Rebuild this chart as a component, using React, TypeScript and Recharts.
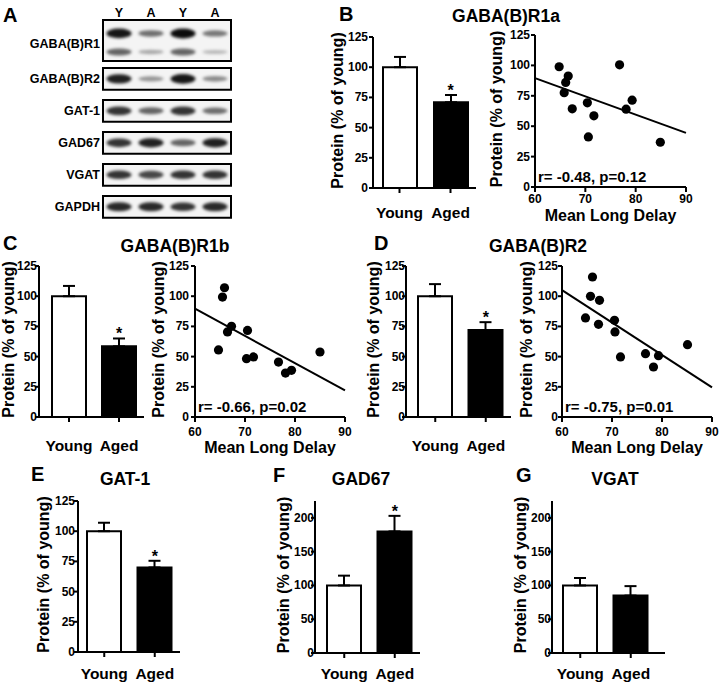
import React from "react";
import {
  BarChart,
  Bar,
  Cell,
  ErrorBar,
  ReferenceDot,
  ScatterChart,
  Scatter,
  ReferenceLine,
  ReferenceArea,
  XAxis,
  YAxis,
} from "recharts";

const FONT = '"Liberation Sans", Arial, Helvetica, sans-serif';

// bar panels: mean and SEM, % of young
const groups = ["Young", "Aged"];
const r1aMean = [100, 71];
const r1aSem = [8.5, 6];
const r1bMean = [100, 58.5];
const r1bSem = [8.5, 6.5];
const r2Mean = [100, 72];
const r2Sem = [10, 6.5];
const gat1Mean = [100, 70];
const gat1Sem = [7, 5.5];
const gad67Mean = [100, 180];
const gad67Sem = [14.5, 23];
const vgatMean = [100, 85];
const vgatSem = [11, 14];

// scatter panels: mean long delay vs protein
const r1aDelay = [64.8, 66.6, 66.1, 65.8, 67.4, 70.4, 71.7, 70.6, 76.8, 79.3, 78.1, 84.9];
const r1aProt = [98.9, 91.2, 86.0, 77.5, 64.3, 69.2, 58.5, 41.2, 100.5, 71.4, 64.0, 36.8];
const r1aFit = [89.5, 44.5];
const r1bDelay = [65.9, 65.5, 67.3, 66.5, 64.7, 70.5, 70.3, 71.7, 76.7, 78.1, 79.3, 85.0];
const r1bProt = [107, 99.3, 75.1, 70.4, 55.5, 71.7, 48.3, 49.7, 45.5, 36.4, 38.6, 53.8];
const r1bFit = [89.7, 22];
const r2Delay = [66.1, 65.7, 67.5, 64.7, 67.3, 70.5, 70.6, 71.7, 76.7, 78.3, 79.3, 85.1];
const r2Prot = [115.9, 99.9, 96.6, 82.0, 76.7, 80.0, 70.4, 49.7, 52.4, 41.4, 50.8, 59.9];
const r2Fit = [105, 24.5];
const fitX = [60, 90];
const delayTicks = [60, 70, 80, 90];

// western blot
const lanes = ["Y", "A", "Y", "A"];
const blotRows = ["GABA(B)R1", "GABA(B)R2", "GAT-1", "GAD67", "VGAT", "GAPDH"];
const bandKd = ["130 kD", "95 kD", "105 kD", "74 kD", "67 kD", "57 kD", "37 kD"];
const bandRow = [0, 0, 1, 2, 3, 4, 5];
const bandDensity = [
  [0.95, 0.5, 1.0, 0.45],
  [0.55, 0.2, 0.55, 0.12],
  [0.9, 0.3, 0.95, 0.35],
  [0.8, 0.55, 0.8, 0.5],
  [0.8, 0.9, 0.55, 0.9],
  [0.8, 0.7, 0.8, 0.8],
  [0.85, 0.85, 0.8, 0.85],
];

const rowTop = (r: number) => (r === 0 ? 0 : r + 0.5);
const rowBottom = (r: number) => (r === 0 ? 1.28 : r + 1.18);
const rowMid = (r: number) => (r === 0 ? 0.75 : r + 0.84);
const bandPos = (b: number) => (b === 0 ? 0.42 : b === 1 ? 1.0 : rowMid(bandRow[b]));

const tickStyle = { fill: "#000", fontSize: 12, fontWeight: 700, fontFamily: FONT };
const axisStroke = { stroke: "#000", strokeWidth: 2 };

function Tag({ x, y, size, mid, children }: any) {
  return (
    <div
      style={{
        position: "absolute",
        left: x,
        top: y,
        transform: mid ? "translate(-50%,-50%)" : "translateY(-50%)",
        fontFamily: FONT,
        fontWeight: 700,
        fontSize: size,
        lineHeight: 1,
        whiteSpace: "nowrap",
        color: "#000",
      }}
    >
      {children}
    </div>
  );
}

// off = distance from the axis line to the visual middle of the rotated label
const yLabel = (off: number) => (p: any) => {
  const vb = p.viewBox;
  const cx = vb.x + vb.width - off - 1.5;
  const cy = vb.y + vb.height / 2 - 2;
  return (
    <text
      x={cx}
      y={cy}
      transform={`rotate(-90 ${cx} ${cy})`}
      textAnchor="middle"
      dominantBaseline="central"
      fontFamily={FONT}
      fontWeight={700}
      fontSize={16}
      fill="#000"
    >
      Protein (% of young)
    </text>
  );
};

const valueTick = (p: any) => (
  <text
    x={p.x}
    y={p.y}
    textAnchor="end"
    dominantBaseline="central"
    fontFamily={FONT}
    fontWeight={700}
    fontSize={12}
    fill="#000"
  >
    {p.payload.value}
  </text>
);

const groupTick = (dy: number) => (p: any) => (
  <text
    x={p.x}
    y={p.y + dy}
    textAnchor="middle"
    dominantBaseline="central"
    fontFamily={FONT}
    fontWeight={700}
    fontSize={15.5}
    fill="#000"
  >
    {p.payload.value}
  </text>
);

const starLabel = (p: any) => {
  const vb = p.viewBox;
  return (
    <text
      x={vb.x + vb.width / 2}
      y={vb.y + vb.height / 2 + 1}
      textAnchor="middle"
      fontFamily={FONT}
      fontWeight={700}
      fontSize={16}
      fill="#000"
    >
      *
    </text>
  );
};

function BarPanel({ means, sems, star, axisX, top, bottom, right, padLeft, padRight = 0, yMax, ticks, xLabelDy, yLabelOff, tickGap }: any) {
  const left = axisX - 60;
  const chartTop = top - 10;
  const data = groups.map((g, i) => ({ g, mean: means[i], err: [0, sems[i]] }));
  return (
    <div style={{ position: "absolute", left, top: chartTop }}>
      <BarChart
        width={right - left + 10}
        height={bottom - chartTop + 40}
        data={data}
        margin={{ top: 10, right: 10, left: 0, bottom: 0 }}
      >
        <XAxis
          dataKey="g"
          type="category"
          height={40}
          interval={0}
          padding={{ left: padLeft, right: padRight }}
          axisLine={axisStroke}
          tickLine={axisStroke}
          tickSize={5}
          tickMargin={2}
          tick={groupTick(xLabelDy - 7)}
        />
        <YAxis
          type="number"
          width={60}
          domain={[0, yMax]}
          ticks={ticks}
          interval={0}
          axisLine={axisStroke}
          tickLine={axisStroke}
          tickSize={4}
          tickMargin={tickGap - 4}
          tick={valueTick}
          label={yLabel(yLabelOff)}
        />
        <Bar dataKey="mean" barSize={34} isAnimationActive={false}>
          <Cell fill="#fff" stroke="#000" strokeWidth={2} />
          <Cell fill="#000" stroke="#000" strokeWidth={2} />
          <ErrorBar dataKey="err" direction="y" width={6} stroke="#000" strokeWidth={2} isAnimationActive={false} />
        </Bar>
        {star && (
          <ReferenceDot x="Aged" y={means[1] + sems[1]} r={0} fill="none" stroke="none" label={starLabel} />
        )}
      </BarChart>
    </div>
  );
}

function ScatterPanel({ delay, prot, fit, stats, axisX, top, bottom, right, tickMargin, xLabelDy, yLabelOff, tickGap }: any) {
  const left = axisX - 60;
  const chartTop = top - 10;
  const pts = delay.map((x: number, i: number) => ({ x, y: prot[i] }));
  const xLabel = (p: any) => {
    const vb = p.viewBox;
    return (
      <text
        x={vb.x + vb.width / 2}
        y={vb.y + xLabelDy}
        textAnchor="middle"
        dominantBaseline="central"
        fontFamily={FONT}
        fontWeight={700}
        fontSize={16}
        fill="#000"
      >
        Mean Long Delay
      </text>
    );
  };
  const statsLabel = (p: any) => {
    const vb = p.viewBox;
    return (
      <text
        x={vb.x + 3}
        y={vb.y + vb.height - 11}
        dominantBaseline="central"
        fontFamily={FONT}
        fontWeight={700}
        fontSize={15}
        fill="#000"
      >
        {stats}
      </text>
    );
  };
  return (
    <div style={{ position: "absolute", left, top: chartTop }}>
      <ScatterChart
        width={right - left + 14}
        height={bottom - chartTop + 45}
        margin={{ top: 10, right: 14, left: 0, bottom: 0 }}
      >
        <XAxis
          dataKey="x"
          type="number"
          height={45}
          domain={[60, 90]}
          ticks={delayTicks}
          interval={0}
          axisLine={axisStroke}
          tickLine={axisStroke}
          tickSize={5}
          tickMargin={tickMargin}
          tick={tickStyle}
          label={xLabel}
        />
        <YAxis
          dataKey="y"
          type="number"
          width={60}
          domain={[0, 125]}
          ticks={[0, 25, 50, 75, 100, 125]}
          interval={0}
          axisLine={axisStroke}
          tickLine={axisStroke}
          tickSize={4}
          tickMargin={tickGap - 4}
          tick={valueTick}
          label={yLabel(yLabelOff)}
        />
        <ReferenceArea x1={60} x2={90} y1={0} y2={125} fill="none" stroke="none" label={statsLabel} />
        <ReferenceLine
          segment={[
            { x: fitX[0], y: fit[0] },
            { x: fitX[1], y: fit[1] },
          ]}
          stroke="#000"
          strokeWidth={2}
          ifOverflow="visible"
        />
        <Scatter
          data={pts}
          isAnimationActive={false}
          shape={(p: any) => <circle cx={p.cx} cy={p.cy} r={4.6} fill="#000" />}
        />
      </ScatterChart>
    </div>
  );
}

function BlotPanel() {
  const rowTicks = blotRows.map((_, r) => rowMid(r));
  const kdTicks = bandKd.map((_, b) => bandPos(b));
  const bands: any[] = [];
  bandDensity.forEach((row, b) =>
    row.forEach((d, l) => bands.push({ lane: l + 1, pos: bandPos(b), d }))
  );
  const blotTick = { ...tickStyle, fontSize: 12.5 };
  return (
    <div style={{ position: "absolute", left: 0, top: 0 }}>
      <ScatterChart width={290} height={222} margin={{ top: 0, right: 0, left: 0, bottom: 5 }}>
        <XAxis
          xAxisId="lane"
          dataKey="lane"
          type="number"
          orientation="top"
          height={20}
          domain={[0.5, 4.5]}
          ticks={[1, 2, 3, 4]}
          interval={0}
          axisLine={false}
          tickLine={false}
          tickSize={0}
          tickMargin={3}
          tick={blotTick}
          tickFormatter={(v: number) => lanes[v - 1]}
        />
        <YAxis
          yAxisId="row"
          dataKey="pos"
          type="number"
          width={103}
          domain={[0, 6.16]}
          reversed
          ticks={rowTicks}
          interval={0}
          axisLine={false}
          tickLine={false}
          tickSize={0}
          tickMargin={3}
          tick={blotTick}
          tickFormatter={(v: number) => blotRows[rowTicks.indexOf(v)]}
        />
        <YAxis
          yAxisId="kd"
          orientation="right"
          type="number"
          width={59}
          domain={[0, 6.16]}
          reversed
          ticks={kdTicks}
          interval={0}
          axisLine={false}
          tickLine={false}
          tickSize={0}
          tickMargin={2}
          tick={blotTick}
          tickFormatter={(v: number) => bandKd[kdTicks.indexOf(v)]}
        />
        {blotRows.map((name, r) => (
          <ReferenceArea
            key={name}
            xAxisId="lane"
            yAxisId="row"
            x1={0.5}
            x2={4.5}
            y1={rowTop(r)}
            y2={rowBottom(r)}
            fill="#f4f4f4"
            fillOpacity={1}
            stroke="#000"
            strokeWidth={2}
            ifOverflow="visible"
          />
        ))}
        <Scatter
          xAxisId="lane"
          yAxisId="row"
          data={bands}
          isAnimationActive={false}
          shape={(p: any) => {
            const d = p.payload.d;
            return (
              <ellipse
                cx={p.cx}
                cy={p.cy}
                rx={12.5}
                ry={1.6 + 3.4 * d}
                fill="#000"
                fillOpacity={0.15 + 0.8 * d}
                filter="url(#blot-blur)"
              />
            );
          }}
        />
      </ScatterChart>
    </div>
  );
}

export default function App() {
  const t125 = [0, 25, 50, 75, 100, 125];
  const t200 = [0, 50, 100, 150, 200];
  return (
    <div
      style={{
        position: "absolute",
        left: 0,
        top: 0,
        width: 720,
        height: 683,
        overflow: "hidden",
        background: "#fff",
      }}
    >
      <svg width={0} height={0} style={{ position: "absolute" }}>
        <defs>
          <filter id="blot-blur" x="-50%" y="-150%" width="200%" height="400%">
            <feGaussianBlur stdDeviation="1.5" />
          </filter>
        </defs>
      </svg>

      <BlotPanel />

      <BarPanel means={r1aMean} sems={r1aSem} star axisX={373} top={37} bottom={188} right={476} padLeft={1} yMax={125} ticks={t125} xLabelDy={24} yLabelOff={34.5} tickGap={5} />
      <ScatterPanel delay={r1aDelay} prot={r1aProt} fit={r1aFit} stats="r= -0.48, p=0.12" axisX={535} top={35} bottom={187} right={686} tickMargin={2} xLabelDy={28} yLabelOff={37} tickGap={5} />

      <BarPanel means={r1bMean} sems={r1bSem} star axisX={39} top={266} bottom={417} right={144} padLeft={5} yMax={125} ticks={t125} xLabelDy={28} yLabelOff={29} tickGap={2} />
      <ScatterPanel delay={r1bDelay} prot={r1bProt} fit={r1bFit} stats="r= -0.66, p=0.02" axisX={195} top={266} bottom={417} right={345} tickMargin={5} xLabelDy={30} yLabelOff={35} tickGap={6} />

      <BarPanel means={r2Mean} sems={r2Sem} star axisX={406} top={266} bottom={417} right={511} padLeft={4} yMax={125} ticks={t125} xLabelDy={28} yLabelOff={31} tickGap={1} />
      <ScatterPanel delay={r2Delay} prot={r2Prot} fit={r2Fit} stats="r= -0.75, p=0.01" axisX={562} top={266} bottom={417} right={712} tickMargin={5} xLabelDy={30} yLabelOff={34.5} tickGap={4} />

      <BarPanel means={gat1Mean} sems={gat1Sem} star axisX={78} top={501} bottom={652} right={180} padLeft={1} yMax={125} ticks={t125} xLabelDy={21} yLabelOff={33.5} tickGap={3} />
      <BarPanel means={gad67Mean} sems={gad67Sem} star axisX={315} top={501} bottom={653} right={420} padLeft={4} yMax={225} ticks={t200} xLabelDy={20} yLabelOff={30.5} tickGap={1} />
      <BarPanel means={vgatMean} sems={vgatSem} star={false} axisX={552} top={501} bottom={653} right={665} padLeft={3} padRight={9} yMax={225} ticks={t200} xLabelDy={20} yLabelOff={30} tickGap={1} />

      <Tag x={3} y={15} size={20}>A</Tag>
      <Tag x={339} y={14} size={20}>B</Tag>
      <Tag x={506} y={17} size={17.5} mid>GABA(B)R1a</Tag>
      <Tag x={3} y={243} size={20}>C</Tag>
      <Tag x={175} y={247} size={17.5} mid>GABA(B)R1b</Tag>
      <Tag x={374} y={243} size={20}>D</Tag>
      <Tag x={538} y={247} size={17.5} mid>GABA(B)R2</Tag>
      <Tag x={31} y={474} size={20}>E</Tag>
      <Tag x={125} y={480} size={17.5} mid>GAT-1</Tag>
      <Tag x={273} y={475} size={20}>F</Tag>
      <Tag x={361} y={480} size={17.5} mid>GAD67</Tag>
      <Tag x={516} y={475} size={20}>G</Tag>
      <Tag x={615} y={480} size={17.5} mid>VGAT</Tag>
    </div>
  );
}
